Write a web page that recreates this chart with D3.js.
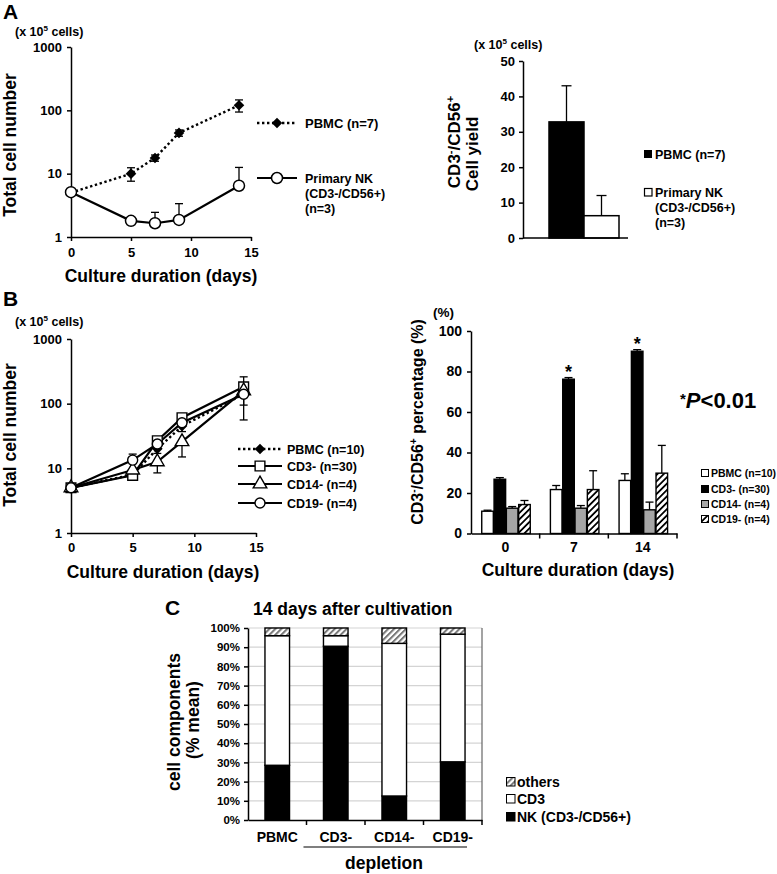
<!DOCTYPE html>
<html lang="en">
<head>
<meta charset="UTF-8">
<title>NK cell expansion</title>
<script src="https://d3js.org/d3.v7.min.js"></script>
<style>
  body { margin: 0; background: #fff; }
  svg { display: block; }
  text { font-family: "Liberation Sans", Arial, sans-serif; font-weight: bold; fill: #000; }
  .axis path, .axis line { stroke: #000; stroke-width: 1.5; }
  .axis text { font-size: 13px; }
  .err line { stroke: #000; stroke-width: 1.3; }
</style>
</head>
<body>
<svg width="777" height="874"></svg>
<script>
// ---- panel A: growth curves (x 10^5 cells)
const daysA = [0, 5, 7, 9, 14];
const pbmcA = [5, 10, 17.7, 44, 120];
const pbmcAErr = [0, 2.4, 2, 5, 26];
const nkA = [5.1, 1.8, 1.65, 1.86, 6.45];
const nkAErrUp = [0, 0, 0.8, 1.5, 6.1];

// ---- panel A: CD3-/CD56+ yield
const yieldGroups = ["PBMC", "Primary NK"];
const yieldVals = [32.8, 6.3];
const yieldErr = [10.2, 5.7];

// ---- panel B: growth curves
const daysB = [0, 5, 7, 9, 14];
const pbmcB = [5, 8, 20, 45, 140];
const pbmcBErrDown = [0, 0.8, 3, 8, 45];
const cd3B = [5, 7.8, 26.7, 60.5, 182];
const cd3BErrUp = [0, 0.8, 3, 6, 78];
const cd14B = [5, 9.4, 12.6, 25.8, 158];
const cd14BErrDown = [0, 1, 4.1, 10.8, 102];
const cd19B = [5, 13.4, 23.8, 50.7, 140];
const cd19BErrUp = [0, 3.2, 2, 4, 20];

// ---- panel B: CD3-/CD56+ percentage
const pctDays = ["0", "7", "14"];
const pctGroups = ["PBMC (n=10)", "CD3- (n=30)", "CD14- (n=4)", "CD19- (n=4)"];
const pctPBMC = [11, 21.7, 26.2];
const pctCD3 = [26.8, 76.2, 90];
const pctCD14 = [12.5, 12.5, 11.7];
const pctCD19 = [14.3, 21.7, 29.8];
const errPBMC = [0.5, 2, 3.3];
const errCD3 = [0.8, 0.8, 0.8];
const errCD14 = [0.8, 1.3, 3.8];
const errCD19 = [2, 9.3, 13.7];

// ---- panel C: cell components at day 14 (% mean)
const groupsC = ["PBMC", "CD3-", "CD14-", "CD19-"];
const nkC = [28.5, 90.5, 12.5, 30.3];
const cd3C = [67.5, 5.5, 79.5, 66.5];
const othersC = [4, 4, 8, 3.2];
const pctTicks = [0, 10, 20, 30, 40, 50, 60, 70, 80, 90, 100];

const svg = d3.select("svg");
const defs = svg.append("defs");

function hatch(id, color, w, gap) {
  const p = defs.append("pattern").attr("id", id)
    .attr("patternUnits", "userSpaceOnUse")
    .attr("width", gap).attr("height", gap)
    .attr("patternTransform", "rotate(45)");
  p.append("rect").attr("width", gap).attr("height", gap).attr("fill", "#fff");
  p.append("rect").attr("width", w).attr("height", gap).attr("fill", color);
}
hatch("hatchB", "#000", 1.8, 4.5);
hatch("hatchC", "#777", 2, 4.2);

function label(x, y, txt, size, anchor) {
  return svg.append("text").attr("x", x).attr("y", y)
    .attr("text-anchor", anchor || "start")
    .style("font-size", size + "px").text(txt);
}

function vlabel(x, y, size) {
  return svg.append("text")
    .attr("transform", `translate(${x},${y}) rotate(-90)`)
    .attr("text-anchor", "middle")
    .style("font-size", size + "px");
}

function unitLabel(x, y) {
  const t = svg.append("text").attr("x", x).attr("y", y).style("font-size", "12.5px");
  t.append("tspan").text("(x 10");
  t.append("tspan").attr("dy", -5).style("font-size", "8px").text("5");
  t.append("tspan").attr("dy", 5).text(" cells)");
}

function errBar(g, x, y1, y2, cap) {
  g.append("line").attr("x1", x).attr("x2", x).attr("y1", y1).attr("y2", y2);
  g.append("line").attr("x1", x - cap).attr("x2", x + cap).attr("y1", y2).attr("y2", y2);
}

const diamond = d3.symbol().type(d3.symbolSquare).size(56);
const square = d3.symbol().type(d3.symbolSquare).size(95);
const triangle = d3.symbol().type(d3.symbolTriangle).size(80);

// ================= A: growth curves =================
const xA = d3.scaleLinear().domain([0, 15]).range([71, 251]);
const yA = d3.scaleLog().domain([1, 1000]).range([237, 47]);

svg.append("g").attr("class", "axis").attr("transform", "translate(0,237)")
  .call(d3.axisBottom(xA).tickValues([0, 5, 10, 15]).tickSize(4).tickSizeOuter(0).tickPadding(7));
svg.append("g").attr("class", "axis").attr("transform", "translate(71,0)")
  .call(d3.axisLeft(yA).tickValues([1, 10, 100, 1000]).tickFormat(d3.format("d"))
    .tickSize(4).tickSizeOuter(0).tickPadding(5));

label(3, 19, "A", 21);
unitLabel(15, 36);
label(161, 282, "Culture duration (days)", 17.5, "middle");
vlabel(16, 145, 17.5).text("Total cell number");

const lineA = d3.line().x((d, i) => xA(daysA[i])).y(d => yA(d));
const gA = svg.append("g");
const errA = gA.append("g").attr("class", "err");
daysA.forEach((d, i) => {
  if (pbmcAErr[i] > 0) {
    errBar(errA, xA(d), yA(pbmcA[i]), yA(pbmcA[i] + pbmcAErr[i]), 4);
    errBar(errA, xA(d), yA(pbmcA[i]), yA(pbmcA[i] - pbmcAErr[i]), 4);
  }
  if (nkAErrUp[i] > 0) errBar(errA, xA(d), yA(nkA[i]), yA(nkA[i] + nkAErrUp[i]), 4);
});
gA.append("path").datum(pbmcA).attr("d", lineA).attr("fill", "none")
  .attr("stroke", "#000").attr("stroke-width", 2.4).attr("stroke-dasharray", "2.4,2.6");
gA.selectAll(".dia").data(pbmcA).join("path")
  .attr("d", diamond)
  .attr("transform", (d, i) => `translate(${xA(daysA[i])},${yA(d)}) rotate(45)`)
  .attr("fill", "#000");
gA.append("path").datum(nkA).attr("d", lineA).attr("fill", "none")
  .attr("stroke", "#000").attr("stroke-width", 2.2);
gA.selectAll(".circ").data(nkA).join("circle")
  .attr("cx", (d, i) => xA(daysA[i])).attr("cy", d => yA(d)).attr("r", 5.5)
  .attr("fill", "#fff").attr("stroke", "#000").attr("stroke-width", 1.5);

// legend A line
const legA = svg.append("g");
legA.append("line").attr("x1", 257).attr("x2", 297).attr("y1", 123).attr("y2", 123)
  .attr("stroke", "#000").attr("stroke-width", 2.4).attr("stroke-dasharray", "2.4,2.6");
legA.append("path").attr("d", diamond).attr("transform", "translate(277,123) rotate(45)").attr("fill", "#000");
label(305, 127.5, "PBMC (n=7)", 13);
legA.append("line").attr("x1", 257).attr("x2", 297).attr("y1", 178).attr("y2", 178)
  .attr("stroke", "#000").attr("stroke-width", 2.2);
legA.append("circle").attr("cx", 277).attr("cy", 178).attr("r", 5.5)
  .attr("fill", "#fff").attr("stroke", "#000").attr("stroke-width", 1.5);
label(305, 182.5, "Primary NK", 12.5);
label(305, 197.5, "(CD3-/CD56+)", 12.5);
label(305, 212.5, "(n=3)", 12.5);

// ================= A: yield bars =================
const yY = d3.scaleLinear().domain([0, 50]).range([238, 61]);
const xY = d3.scaleBand().domain(yieldGroups).range([549, 619]);

svg.append("g").attr("class", "err").selectAll("g").data(yieldVals).join("g")
  .each(function (d, i) {
    errBar(d3.select(this), xY(yieldGroups[i]) + xY.bandwidth() / 2, yY(d), yY(d + yieldErr[i]), 5);
  });
svg.append("g").selectAll("rect").data(yieldVals).join("rect")
  .attr("x", (d, i) => xY(yieldGroups[i])).attr("width", xY.bandwidth())
  .attr("y", d => yY(d)).attr("height", d => yY(0) - yY(d))
  .attr("fill", (d, i) => i === 0 ? "#000" : "#fff")
  .attr("stroke", "#000").attr("stroke-width", 1.5);

svg.append("g").attr("class", "axis").attr("transform", "translate(523,0)")
  .call(d3.axisLeft(yY).tickValues([0, 10, 20, 30, 40, 50]).tickSize(4).tickSizeOuter(0).tickPadding(4));
svg.append("line").attr("x1", 523).attr("x2", 628).attr("y1", 238).attr("y2", 238)
  .attr("stroke", "#000").attr("stroke-width", 1.5);

unitLabel(474, 49);
const t1 = vlabel(460, 142, 17);
t1.append("tspan").text("CD3");
t1.append("tspan").attr("dy", -6).style("font-size", "11px").text("-");
t1.append("tspan").attr("dy", 6).text("/CD56");
t1.append("tspan").attr("dy", -6).style("font-size", "11px").text("+");
vlabel(478, 154, 17).text("Cell yield");

svg.append("rect").attr("x", 644).attr("y", 150).attr("width", 8).attr("height", 8).attr("fill", "#000");
label(655, 158.5, "PBMC (n=7)", 12.5);
svg.append("rect").attr("x", 644.5).attr("y", 188.5).attr("width", 7.5).attr("height", 7.5)
  .attr("fill", "#fff").attr("stroke", "#000").attr("stroke-width", 1.2);
label(655, 196.5, "Primary NK", 12.5);
label(655, 211.5, "(CD3-/CD56+)", 12.5);
label(655, 226.5, "(n=3)", 12.5);

// ================= B: growth curves =================
const xB = d3.scaleLinear().domain([0, 15]).range([71, 256]);
const yB = d3.scaleLog().domain([1, 1000]).range([533, 339]);

svg.append("g").attr("class", "axis").attr("transform", "translate(0,533)")
  .call(d3.axisBottom(xB).tickValues([0, 5, 10, 15]).tickSize(4).tickSizeOuter(0).tickPadding(6));
svg.append("g").attr("class", "axis").attr("transform", "translate(71,0)")
  .call(d3.axisLeft(yB).tickValues([1, 10, 100, 1000]).tickFormat(d3.format("d"))
    .tickSize(4).tickSizeOuter(0).tickPadding(5));

label(3, 306, "B", 21);
unitLabel(15, 326);
label(163, 578, "Culture duration (days)", 17.5, "middle");
vlabel(16, 435, 17.5).text("Total cell number");

const lineB = d3.line().x((d, i) => xB(daysB[i])).y(d => yB(d));
const gB = svg.append("g");
const errB = gB.append("g").attr("class", "err");
daysB.forEach((d, i) => {
  if (pbmcBErrDown[i] > 0) errBar(errB, xB(d), yB(pbmcB[i]), yB(pbmcB[i] - pbmcBErrDown[i]), 4);
  if (cd3BErrUp[i] > 0) errBar(errB, xB(d), yB(cd3B[i]), yB(cd3B[i] + cd3BErrUp[i]), 4);
  if (cd14BErrDown[i] > 0) errBar(errB, xB(d), yB(cd14B[i]), yB(cd14B[i] - cd14BErrDown[i]), 4);
  if (cd19BErrUp[i] > 0) errBar(errB, xB(d), yB(cd19B[i]), yB(cd19B[i] + cd19BErrUp[i]), 4);
});
gB.append("path").datum(pbmcB).attr("d", lineB).attr("fill", "none")
  .attr("stroke", "#000").attr("stroke-width", 2.4).attr("stroke-dasharray", "2.4,2.6");
[cd3B, cd14B, cd19B].forEach(s => {
  gB.append("path").datum(s).attr("d", lineB).attr("fill", "none")
    .attr("stroke", "#000").attr("stroke-width", 2.2);
});
gB.selectAll(".dia").data(pbmcB).join("path")
  .attr("d", diamond)
  .attr("transform", (d, i) => `translate(${xB(daysB[i])},${yB(d)}) rotate(45)`)
  .attr("fill", "#000");
gB.selectAll(".sq").data(cd3B).join("path")
  .attr("d", square)
  .attr("transform", (d, i) => `translate(${xB(daysB[i])},${yB(d)})`)
  .attr("fill", "#fff").attr("stroke", "#000").attr("stroke-width", 1.4);
gB.selectAll(".tri").data(cd14B).join("path")
  .attr("d", triangle)
  .attr("transform", (d, i) => `translate(${xB(daysB[i])},${yB(d)})`)
  .attr("fill", "#fff").attr("stroke", "#000").attr("stroke-width", 1.4);
gB.selectAll(".ci").data(cd19B).join("circle")
  .attr("cx", (d, i) => xB(daysB[i])).attr("cy", d => yB(d)).attr("r", 5)
  .attr("fill", "#fff").attr("stroke", "#000").attr("stroke-width", 1.4);

// legend B line
const legB = svg.append("g");
const legBRows = [
  ["PBMC (n=10)", 449, "dia"],
  ["CD3- (n=30)", 466, "sq"],
  ["CD14- (n=4)", 484, "tri"],
  ["CD19- (n=4)", 503, "ci"]
];
legBRows.forEach(([name, y, m]) => {
  const ln = legB.append("line").attr("x1", 238).attr("x2", 282).attr("y1", y).attr("y2", y)
    .attr("stroke", "#000");
  if (m === "dia") {
    ln.attr("stroke-width", 2.4).attr("stroke-dasharray", "2.4,2.6");
    legB.append("path").attr("d", diamond).attr("transform", `translate(260,${y}) rotate(45)`).attr("fill", "#000");
  } else {
    ln.attr("stroke-width", 2.2);
    const sym = m === "sq" ? square : triangle;
    if (m === "ci") {
      legB.append("circle").attr("cx", 260).attr("cy", y).attr("r", 5)
        .attr("fill", "#fff").attr("stroke", "#000").attr("stroke-width", 1.4);
    } else {
      legB.append("path").attr("d", sym).attr("transform", `translate(260,${y})`)
        .attr("fill", "#fff").attr("stroke", "#000").attr("stroke-width", 1.4);
    }
  }
  label(287, y + 4.5, name, 12.5);
});

// ================= B: percentage bars =================
const pctTable = pctDays.map((day, i) => ({
  day,
  vals: [pctPBMC[i], pctCD3[i], pctCD14[i], pctCD19[i]],
  errs: [errPBMC[i], errCD3[i], errCD14[i], errCD19[i]]
}));
const fills = ["#fff", "#000", "#a6a6a6", "url(#hatchB)"];
const x0 = d3.scaleBand().domain(pctDays).range([471, 677]);
const x1 = d3.scaleBand().domain(pctGroups).range([10, 60]).padding(0.06);
const yP = d3.scaleLinear().domain([0, 100]).range([533.5, 331]);

const gP = svg.append("g");
pctTable.forEach(row => {
  const g = gP.append("g").attr("transform", `translate(${x0(row.day)},0)`);
  const eg = g.append("g").attr("class", "err");
  row.vals.forEach((v, j) => {
    errBar(eg, x1(pctGroups[j]) + x1.bandwidth() / 2, yP(v), yP(v + row.errs[j]), 4);
  });
  g.selectAll("rect").data(row.vals).join("rect")
    .attr("x", (d, j) => x1(pctGroups[j])).attr("width", x1.bandwidth())
    .attr("y", d => yP(d)).attr("height", d => yP(0) - yP(d))
    .attr("fill", (d, j) => fills[j]).attr("stroke", "#000").attr("stroke-width", 1.4);
  if (row.day !== "0") {
    const cx = x1(pctGroups[1]) + x1.bandwidth() / 2;
    g.append("text").attr("x", cx).attr("y", yP(row.vals[1] + row.errs[1]) + 0.5)
      .attr("text-anchor", "middle").style("font-size", "18px").text("*");
  }
});

svg.append("g").attr("class", "axis").attr("transform", "translate(471,0)")
  .call(d3.axisLeft(yP).tickValues([0, 20, 40, 60, 80, 100]).tickSize(4).tickSizeOuter(0).tickPadding(5))
  .selectAll("text").style("font-size", "14px");
const xPAxis = svg.append("g").attr("class", "axis").attr("transform", "translate(0,533.5)")
  .call(d3.axisBottom(x0).tickSize(0).tickSizeOuter(0).tickPadding(9));
xPAxis.selectAll("text").style("font-size", "14px");
xPAxis.selectAll(".bound").data(pctDays).join("line")
  .attr("x1", d => x0(d) + x0.bandwidth())
  .attr("x2", d => x0(d) + x0.bandwidth())
  .attr("y1", 0).attr("y2", 5);

label(433, 317, "(%)", 13.5);
label(578, 576, "Culture duration (days)", 17.5, "middle");
const t2 = vlabel(423, 422, 16);
t2.append("tspan").text("CD3");
t2.append("tspan").attr("dy", -6).style("font-size", "10px").text("-");
t2.append("tspan").attr("dy", 6).text("/CD56");
t2.append("tspan").attr("dy", -6).style("font-size", "10px").text("+");
t2.append("tspan").attr("dy", 6).text(" percentage (%)");

const pt = svg.append("text").attr("x", 680).attr("y", 408).style("font-size", "22px");
pt.append("tspan").attr("dy", -4).style("font-size", "15px").text("*");
pt.append("tspan").attr("dy", 4).style("font-style", "italic").text("P");
pt.append("tspan").text("<0.01");

pctGroups.forEach((name, j) => {
  const y = [473, 489, 504, 519][j];
  svg.append("rect").attr("x", 701.5).attr("y", y - 3.5).attr("width", 7).attr("height", 7)
    .attr("fill", fills[j]).attr("stroke", "#000").attr("stroke-width", 1);
  label(711, y + 3.7, name, 10.5);
});

// ================= C: stacked components =================
const compTable = groupsC.map((g, i) => ({ group: g, nk: nkC[i], cd3: cd3C[i], others: othersC[i] }));
const stackC = d3.stack().keys(["nk", "cd3", "others"])(compTable);
const fillC = { nk: "#000", cd3: "#fff", others: "url(#hatchC)" };
const xC = d3.scaleBand().domain(groupsC).range([248, 482]).paddingInner(0.58).paddingOuter(0.29);
const yC = d3.scaleLinear().domain([0, 100]).range([820, 628]);

svg.append("g").selectAll("line").data(pctTicks.slice(1)).join("line")
  .attr("x1", 248).attr("x2", 482).attr("y1", d => yC(d)).attr("y2", d => yC(d))
  .attr("stroke", "#d4d4d4").attr("stroke-width", 1.2);
svg.append("line").attr("x1", 482).attr("x2", 482).attr("y1", yC(100)).attr("y2", yC(0))
  .attr("stroke", "#666").attr("stroke-width", 1.2);

svg.append("g").selectAll("g").data(stackC).join("g")
  .attr("fill", d => fillC[d.key])
  .selectAll("rect").data(d => d).join("rect")
  .attr("x", d => xC(d.data.group)).attr("width", xC.bandwidth())
  .attr("y", d => yC(d[1])).attr("height", d => yC(d[0]) - yC(d[1]))
  .attr("stroke", "#000").attr("stroke-width", 1.4);

svg.append("g").attr("class", "axis").attr("transform", "translate(248,0)")
  .call(d3.axisLeft(yC).tickValues(pctTicks).tickFormat(d => d + "%").tickSize(4).tickSizeOuter(0).tickPadding(4))
  .selectAll("text").style("font-size", "11.5px");
const xCAxis = svg.append("g").attr("class", "axis").attr("transform", "translate(0,820)")
  .call(d3.axisBottom(xC).tickSize(0).tickSizeOuter(0).tickPadding(12));
xCAxis.selectAll("text").style("font-size", "14px");
xCAxis.selectAll(".bound").data(groupsC).join("line")
  .attr("x1", d => xC(d) + xC.bandwidth() / 2 + xC.step() / 2)
  .attr("x2", d => xC(d) + xC.bandwidth() / 2 + xC.step() / 2)
  .attr("y1", 0).attr("y2", 5);

label(165, 615, "C", 21);
label(253, 615, "14 days after cultivation", 17.5);
vlabel(180, 722, 17.5).text("cell components");
vlabel(199, 720, 17.5).text("(% mean)");
svg.append("line").attr("x1", xC("CD3-") - 20).attr("x2", xC("CD19-") + xC.bandwidth() + 2)
  .attr("y1", 847).attr("y2", 847).attr("stroke", "#000").attr("stroke-width", 1.2);
label(384, 869, "depletion", 17.5, "middle");

[["others", 782, "others"], ["CD3", 799, "cd3"], ["NK (CD3-/CD56+)", 817, "nk"]].forEach(([name, y, k]) => {
  svg.append("rect").attr("x", 506.5).attr("y", y - 4.5).attr("width", 8.5).attr("height", 8.5)
    .attr("fill", fillC[k]).attr("stroke", "#000").attr("stroke-width", 1);
  label(517, y + 5, name, 14);
});
</script>
</body>
</html>
